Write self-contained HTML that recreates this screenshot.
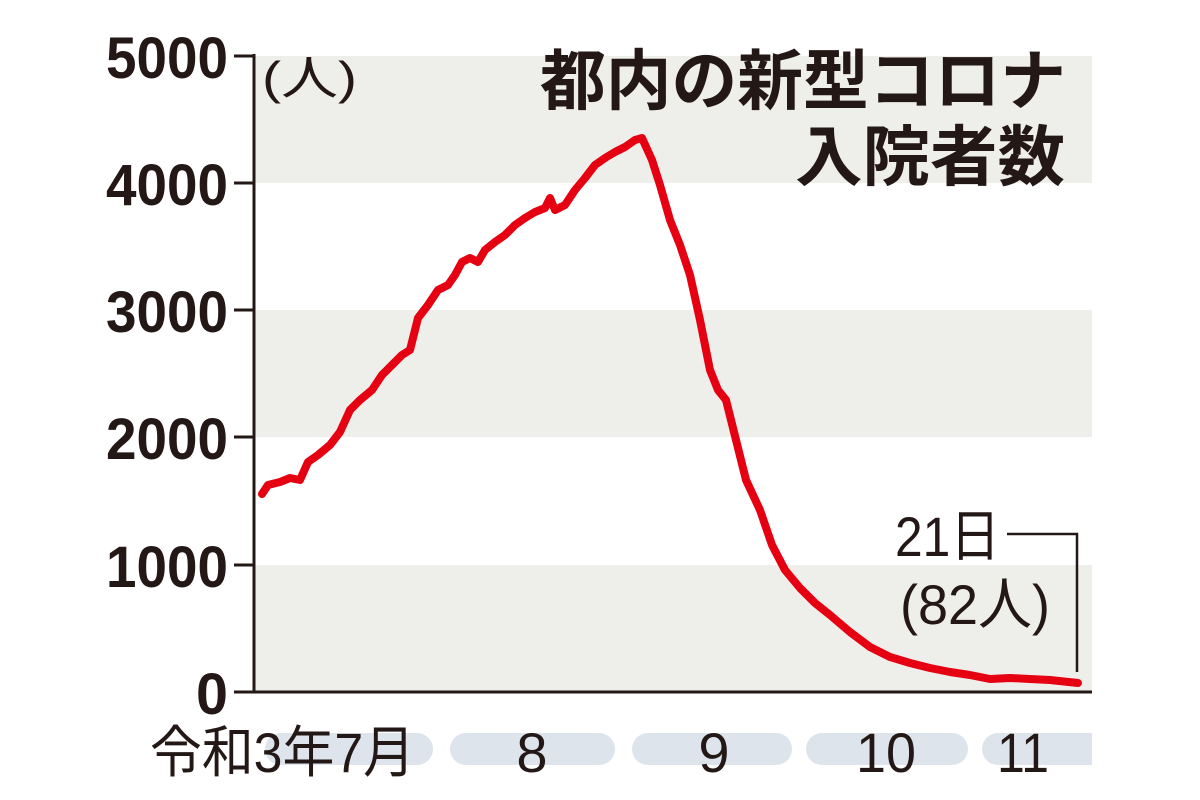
<!DOCTYPE html>
<html><head><meta charset="utf-8"><style>
html,body{margin:0;padding:0;background:#fff;}
svg{display:block}
</style></head><body>
<svg width="1200" height="800" viewBox="0 0 1200 800" xmlns="http://www.w3.org/2000/svg">
<rect x="0" y="0" width="1200" height="800" fill="#fff"/>
<rect x="254" y="56" width="838" height="127" fill="#eeeeea"/>
<rect x="254" y="310" width="838" height="127" fill="#eeeeea"/>
<rect x="254" y="565" width="838" height="127" fill="#eeeeea"/>
<g stroke="#231815" stroke-width="3" fill="none">
<line x1="254" y1="54" x2="254" y2="693"/>
<line x1="234" y1="692" x2="1092" y2="692"/>
<line x1="234" y1="56" x2="254" y2="56"/>
<line x1="234" y1="183" x2="254" y2="183"/>
<line x1="234" y1="310" x2="254" y2="310"/>
<line x1="234" y1="437" x2="254" y2="437"/>
<line x1="234" y1="565" x2="254" y2="565"/>
</g>
<g font-family="'Liberation Sans','Noto Sans CJK JP',sans-serif" font-weight="bold" font-size="58" fill="#231815" text-anchor="end">
<text x="228" y="78" textLength="122" lengthAdjust="spacingAndGlyphs">5000</text>
<text x="228" y="205" textLength="122" lengthAdjust="spacingAndGlyphs">4000</text>
<text x="228" y="332" textLength="122" lengthAdjust="spacingAndGlyphs">3000</text>
<text x="228" y="459" textLength="122" lengthAdjust="spacingAndGlyphs">2000</text>
<text x="228" y="587" textLength="122" lengthAdjust="spacingAndGlyphs">1000</text>
<text x="228" y="714" textLength="32" lengthAdjust="spacingAndGlyphs">0</text>
</g>
<text x="262" y="94" font-family="'Liberation Sans','Noto Sans CJK JP',sans-serif" font-size="46" fill="#231815" textLength="95" lengthAdjust="spacingAndGlyphs">(人)</text>
<g font-family="'Liberation Sans','Noto Sans CJK JP',sans-serif" font-weight="bold" font-size="66" fill="#231815">
<text x="540" y="104" textLength="526" lengthAdjust="spacingAndGlyphs">都内の新型コロナ</text>
<text x="795" y="180" textLength="270" lengthAdjust="spacingAndGlyphs">入院者数</text>
</g>
<g fill="#dde4ec">
<rect x="265" y="733" width="168" height="32" rx="16"/>
<rect x="450" y="733" width="165" height="32" rx="16"/>
<rect x="632" y="733" width="160" height="32" rx="16"/>
<rect x="806" y="733" width="162" height="32" rx="16"/>
<path d="M998 733 H1092 V765 H998 A16 16 0 0 1 998 733 Z"/>
</g>
<g font-family="'Liberation Sans','Noto Sans CJK JP',sans-serif" font-size="56" fill="#231815">
<text x="150" y="772" textLength="265" lengthAdjust="spacingAndGlyphs">令和3年7月</text>
<text x="532" y="772" text-anchor="middle">8</text>
<text x="714" y="772" text-anchor="middle">9</text>
<text x="886" y="772" text-anchor="middle" textLength="60" lengthAdjust="spacingAndGlyphs">10</text>
<text x="1023" y="772" text-anchor="middle" textLength="52" lengthAdjust="spacingAndGlyphs">11</text>
<text x="895" y="556" textLength="105" lengthAdjust="spacingAndGlyphs">21日</text>
<text x="900" y="624" textLength="150" lengthAdjust="spacingAndGlyphs">(82人)</text>
</g>
<polyline points="1007,534 1077,534 1077,672" fill="none" stroke="#231815" stroke-width="2.5"/>
<polyline fill="none" stroke="#e50012" stroke-width="8" stroke-linejoin="round" stroke-linecap="round" points="262,494 268,485 280,482 290,478 300,480 308,462 318,455 330,445 340,432 350,410 360,400 372,390 382,375 392,365 402,355 410,350 418,318 428,305 438,290 448,285 455,275 462,262 470,258 478,262 485,250 495,242 505,235 515,225 525,218 535,212 545,208 550,198 555,210 565,205 575,190 585,178 595,165 605,158 615,152 625,147 635,140 642,138 652,160 660,185 670,220 680,245 690,275 700,320 710,370 718,390 726,400 736,440 746,480 760,510 772,545 785,570 800,588 815,603 830,615 850,632 870,647 890,657 910,663 930,668 950,672 970,675 990,679 1010,678 1030,679 1050,680 1078,683"/>
</svg>
</body></html>
